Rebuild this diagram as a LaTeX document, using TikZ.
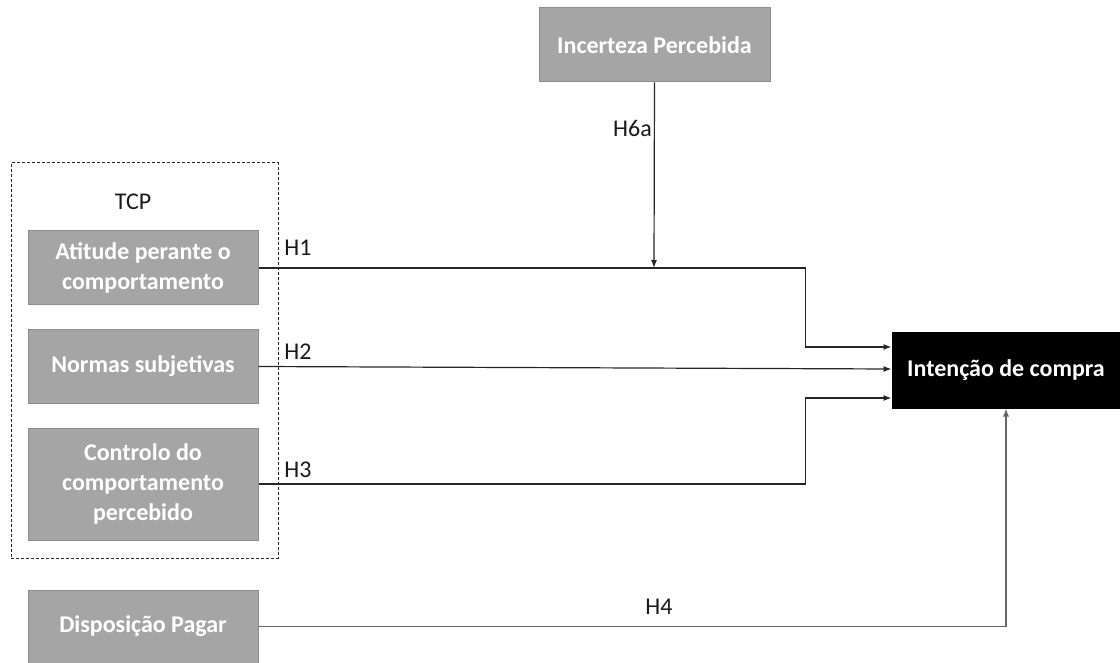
\documentclass[tikz,border=0pt]{standalone}
\usepackage{fontspec}
\setmainfont{Carlito}
\usetikzlibrary{arrows.meta,positioning,calc}

\definecolor{boxgrey}{HTML}{A5A5A5}
\definecolor{boxline}{HTML}{8C8C8C}

\begin{document}
\begin{tikzpicture}[
    x=1pt, y=-1pt,
    block/.style={draw=boxline, line width=1pt, rectangle, fill=boxgrey, text=white, align=center,
                  font=\fontsize{24}{30}\selectfont\bfseries, minimum width=230, minimum height=74},
    edge/.style={-{Latex[length=8pt,width=6pt]}, line width=1.2pt, draw=black!85},
    label/.style={font=\fontsize{24}{29}\selectfont, text=black!90},
]
\useasboundingbox (0,0) rectangle (1120,663);

% TCP group
\node[draw=black!85, line width=1pt, dash pattern=on 3pt off 2pt, minimum width=267, minimum height=395] (tcpbox) at (144.5,360.5) {};
\node[label] (tcp) at (133,202) {TCP};

% Constructs
\node[block] (atitude) at (143,268) {Atitude perante o\\comportamento};
\node[block, minimum height=73] (normas) at (143,366.5) {Normas subjetivas};
\node[block, minimum height=112] (controlo) at (143,484) {Controlo do\\comportamento\\percebido};
\node[block, minimum height=73] (disposicao) at (143,626.5) {Disposição Pagar};
\node[block, minimum width=231] (incerteza) at (654.5,45) {Incerteza Percebida};
\node[block, fill=black, draw=black, minimum width=228, minimum height=75] (intencao) at (1006,370.5) {Intenção de compra};

% Hypotheses
\coordinate (moderador) at (654,268);
\draw[edge] (atitude.east) -- ++(547,0) |- ([yshift=23.5pt]intencao.west);
\draw[edge] (normas.east) -- ([yshift=1.5pt]intencao.west);
\draw[edge] (controlo.east) -- ++(547,0) |- ([yshift=-27.5pt]intencao.west);
\draw[edge, draw=black!60] (disposicao.east) -| (intencao.south);
\draw[edge] (incerteza.south) -- (moderador);

% Labels
\node[label] (h1) at (298,248) {H1};
\node[label] (h2) at (298,352) {H2};
\node[label] (h3) at (298,470) {H3};
\node[label] (h4) at (659,607) {H4};
\node[label, anchor=east, inner sep=1pt] (h6a) at (653,128) {H6a};

\end{tikzpicture}
\end{document}
